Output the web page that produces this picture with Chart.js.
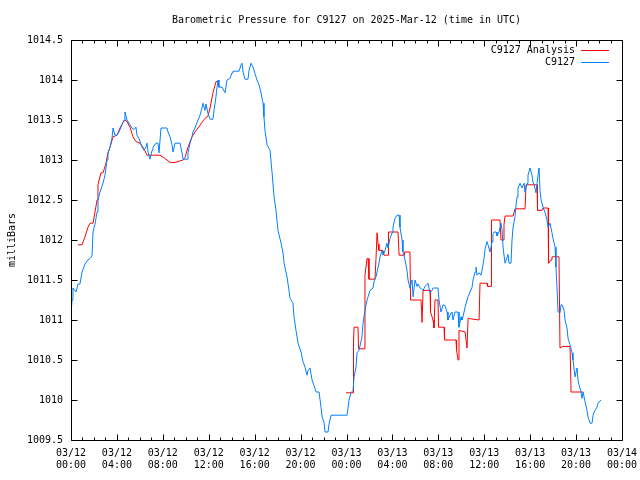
<!DOCTYPE html>
<html>
<head>
<meta charset="utf-8">
<title>Barometric Pressure for C9127</title>
<script src="https://cdn.jsdelivr.net/npm/chart.js@4.4.1/dist/chart.umd.min.js"></script>
<style>
	html, body {
		margin: 0;
		padding: 0;
		background: #ffffff;
	}
	#chartBox {
		width: 640px;
		height: 480px;
	}
</style>
</head>
<body>
<div id="chartBox">
	<canvas id="pressureChart" width="640" height="480"></canvas>
</div>
<script>
// hours after 03/12 00:00 UTC, pressure in mb
var stationName = "C9127";
var chartTitle = "Barometric Pressure for C9127 on 2025-Mar-12 (time in UTC)";
var yAxisTitle = "milliBars";

var tickDates = [ "03/12", "03/12", "03/12", "03/12", "03/12", "03/12",
		"03/13", "03/13", "03/13", "03/13", "03/13", "03/13", "03/14" ];
var tickTimes = [ "00:00", "04:00", "08:00", "12:00", "16:00", "20:00",
		"00:00", "04:00", "08:00", "12:00", "16:00", "20:00", "00:00" ];

var obsHours = [ 0, 0.09, 0.17, 0.44, 0.61, 0.78, 0.96, 1.22, 1.48, 1.66,
		1.83, 1.92, 2.09, 2.27, 2.35, 2.53, 2.79, 2.96, 3.14, 3.22,
		3.40, 3.57, 3.66, 3.83, 4.01, 4.18, 4.44, 4.62, 4.70, 4.88,
		5.14, 5.31, 5.49, 5.66, 5.75, 5.92, 6.19, 6.36, 6.53, 6.62,
		6.71, 6.88, 7.06, 7.14, 7.41, 7.58, 7.67, 7.84, 8.36, 8.45,
		8.63, 8.80, 8.89, 9.06, 9.50, 9.67, 9.76, 10.11, 10.19, 10.37,
		10.54, 10.63, 10.80, 10.98, 11.24, 11.41, 11.50, 11.67, 11.76, 11.94,
		12.11, 12.37, 12.46, 12.63, 12.72, 12.81, 12.89, 13.16, 13.42, 13.59,
		13.85, 14.03, 14.11, 14.64, 14.81, 14.90, 14.99, 15.16, 15.42, 15.51,
		15.68, 15.86, 16.03, 16.20, 16.38, 16.55, 16.73, 16.81, 16.90, 17.08,
		17.34, 17.51, 17.69, 17.86, 18.03, 18.30, 18.47, 18.56, 18.82, 18.99,
		19.08, 19.34, 19.43, 19.60, 19.78, 20.04, 20.21, 20.39, 20.56, 20.65,
		20.82, 21.00, 21.17, 21.35, 21.61, 21.78, 21.87, 22.04, 22.13, 22.39,
		22.48, 22.65, 24.05, 24.22, 24.39, 24.57, 24.66, 24.83, 24.92, 25.09,
		25.35, 25.44, 25.61, 25.79, 25.88, 26.05, 26.31, 26.40, 26.57, 26.66,
		26.83, 26.92, 27.10, 27.18, 27.36, 27.53, 27.62, 27.79, 27.97, 28.05,
		28.23, 28.40, 28.58, 28.66, 28.84, 28.92, 29.10, 29.27, 29.36, 29.53,
		29.71, 29.80, 29.97, 30.14, 30.23, 30.41, 30.67, 30.84, 31.10, 31.28,
		31.45, 31.54, 31.97, 32.06, 32.23, 32.41, 32.58, 32.76, 32.84, 33.02,
		33.19, 33.28, 33.45, 33.72, 33.80, 33.98, 34.06, 34.15, 34.33, 34.50,
		34.59, 34.76, 34.94, 35.02, 35.20, 35.28, 35.37, 35.55, 35.72, 35.89,
		35.98, 36.07, 36.24, 36.33, 36.50, 36.68, 36.76, 36.85, 37.03, 37.11,
		37.29, 37.46, 37.55, 37.64, 37.81, 37.98, 38.07, 38.16, 38.33, 38.42,
		38.51, 38.68, 38.77, 38.86, 38.94, 39.12, 39.29, 39.47, 39.55, 39.73,
		39.81, 39.99, 40.16, 40.25, 40.34, 40.51, 40.60, 40.77, 40.86, 40.95,
		41.12, 41.30, 41.47, 41.56, 41.73, 41.90, 41.99, 42.17, 42.25, 42.34,
		42.43, 42.60, 42.69, 42.78, 42.95, 43.04, 43.21, 43.30, 43.47, 43.65,
		43.73, 43.91, 44.08, 44.17, 44.26, 44.43, 44.52, 44.61, 44.78, 44.95,
		45.04, 45.22, 45.39, 45.48, 45.65, 45.82, 45.91, 46.17 ];
var obsMb = [ 1011.08, 1011.25, 1011.4, 1011.35, 1011.45, 1011.45, 1011.6, 1011.7, 1011.75, 1011.77,
		1011.8, 1012.1, 1012.2, 1012.35, 1012.5, 1012.6, 1012.71, 1012.81, 1013.0, 1013.08,
		1013.16, 1013.27, 1013.4, 1013.31, 1013.31, 1013.35, 1013.44, 1013.5, 1013.6, 1013.5,
		1013.44, 1013.4, 1013.38, 1013.41, 1013.31, 1013.27, 1013.16, 1013.12, 1013.16, 1013.21,
		1013.1, 1013.01, 1013.12, 1013.16, 1013.21, 1013.21, 1013.09, 1013.4, 1013.4, 1013.35,
		1013.29, 1013.19, 1013.1, 1013.21, 1013.21, 1013.09, 1013.01, 1013.01, 1013.09, 1013.21,
		1013.29, 1013.35, 1013.4, 1013.47, 1013.56, 1013.65, 1013.71, 1013.62, 1013.7, 1013.58,
		1013.51, 1013.51, 1013.62, 1013.79, 1013.91, 1014.0, 1013.91, 1013.91, 1013.84, 1014.0,
		1014.02, 1014.09, 1014.11, 1014.11, 1014.19, 1014.21, 1014.1, 1014.01, 1014.01, 1014.12,
		1014.21, 1014.16, 1014.08, 1014.0, 1013.94, 1013.84, 1013.71, 1013.54, 1013.37, 1013.19,
		1013.12, 1012.85, 1012.54, 1012.37, 1012.12, 1011.96, 1011.84, 1011.71, 1011.54, 1011.37,
		1011.27, 1011.21, 1011.04, 1010.87, 1010.71, 1010.6, 1010.48, 1010.41, 1010.31, 1010.37,
		1010.4, 1010.25, 1010.18, 1010.1, 1010.1, 1009.91, 1009.79, 1009.72, 1009.6, 1009.6,
		1009.7, 1009.81, 1009.81, 1010.0, 1010.09, 1010.12, 1010.29, 1010.41, 1010.59, 1010.62,
		1010.79, 1010.96, 1011.12, 1011.25, 1011.29, 1011.37, 1011.4, 1011.48, 1011.54, 1011.6,
		1011.71, 1011.79, 1011.87, 1011.81, 1011.87, 1011.96, 1011.9, 1012.02, 1012.09, 1012.16,
		1012.27, 1012.31, 1012.31, 1012.16, 1012.0, 1011.85, 1011.75, 1011.62, 1011.5, 1011.4,
		1011.5, 1011.29, 1011.5, 1011.42, 1011.45, 1011.4, 1011.37, 1011.42, 1011.46, 1011.34,
		1011.37, 1011.4, 1011.4, 1011.25, 1011.1, 1011.19, 1011.18, 1011.1, 1011.0, 1011.06,
		1011.1, 1011.0, 1011.1, 1011.1, 1010.91, 1011.04, 1011.0, 1011.04, 1011.16, 1011.25,
		1011.29, 1011.35, 1011.41, 1011.5, 1011.6, 1011.66, 1011.56, 1011.59, 1011.56, 1011.69,
		1011.77, 1011.89, 1011.98, 1011.94, 1011.85, 1011.98, 1012.08, 1012.1, 1012.1, 1012.05,
		1012.1, 1012.21, 1012.13, 1011.91, 1011.71, 1011.78, 1011.82, 1011.71, 1011.71, 1012.0,
		1012.16, 1012.29, 1012.44, 1012.54, 1012.65, 1012.71, 1012.65, 1012.71, 1012.6, 1012.71,
		1012.81, 1012.9, 1012.81, 1012.72, 1012.69, 1012.59, 1012.71, 1012.9, 1012.62, 1012.5,
		1012.41, 1012.34, 1012.25, 1012.16, 1012.21, 1012.09, 1012.02, 1011.91, 1011.66, 1011.4,
		1011.1, 1011.09, 1011.19, 1011.19, 1011.12, 1011.0, 1010.9, 1010.77, 1010.69, 1010.59,
		1010.5, 1010.29, 1010.4, 1010.25, 1010.19, 1010.1, 1010.02, 1010.1, 1009.98, 1009.87,
		1009.79, 1009.71, 1009.71, 1009.81, 1009.87, 1009.91, 1009.96, 1010.0 ];

// analysis series has a gap (null) between the two runs
var anaHours = [ 0.61, 0.96, 1.22, 1.48, 1.66, 1.92, 2.09, 2.27, 2.35, 2.61,
		2.79, 3.05, 3.22, 3.40, 3.66, 4.01, 4.27, 4.53, 4.70, 4.88,
		5.14, 5.40, 5.66, 6.01, 6.36, 6.62, 7.75, 8.10, 8.63, 9.06,
		9.76, 9.93, 10.19, 10.54, 10.80, 11.06, 11.41, 11.67, 11.94, 12.11,
		12.37, 12.63, 12.81, 13.00,
		23.96, 24.57, 24.61, 24.66, 25.00, 25.05, 25.53, 25.61, 25.79, 25.88,
		25.96, 26.48, 26.57, 26.66, 26.75, 26.83, 27.18, 27.27, 27.62, 27.66,
		28.49, 28.58, 29.01, 29.06, 29.53, 29.58, 30.49, 30.54, 30.58, 30.67,
		31.28, 31.32, 31.54, 31.62, 31.71, 31.97, 32.02, 32.50, 32.54, 33.54,
		33.59, 33.72, 33.80, 34.33, 34.50, 34.59, 35.55, 35.63, 36.24, 36.29,
		36.59, 36.63, 37.37, 37.46, 37.64, 37.72, 37.81, 38.51, 38.68, 39.55,
		39.64, 40.60, 40.64, 41.03, 41.12, 41.56, 41.60, 41.82, 41.90, 42.51,
		42.60, 42.86, 43.47, 43.52, 43.56, 44.61 ];
var anaMb = [ 1011.94, 1011.94, 1012.04, 1012.16, 1012.21, 1012.21, 1012.35, 1012.5, 1012.69, 1012.84,
		1012.84, 1012.96, 1013.09, 1013.16, 1013.29, 1013.31, 1013.4, 1013.47, 1013.5, 1013.48,
		1013.41, 1013.29, 1013.23, 1013.21, 1013.14, 1013.06, 1013.06, 1013.03, 1012.97, 1012.97,
		1013.0, 1013.03, 1013.16, 1013.29, 1013.35, 1013.4, 1013.47, 1013.52, 1013.55, 1013.65,
		1013.84, 1013.98, 1013.98, null,
		1010.09, 1010.09, 1010.71, 1010.91, 1010.91, 1010.64, 1010.64, 1011.56, 1011.77, 1011.77,
		1011.51, 1011.51, 1011.77, 1012.09, 1011.95, 1011.87, 1011.87, 1011.81, 1011.81, 1012.1,
		1012.1, 1011.81, 1011.81, 1011.85, 1011.85, 1011.25, 1011.25, 1011.12, 1010.97, 1011.37,
		1011.37, 1011.1, 1011.0, 1010.9, 1011.25, 1011.25, 1010.91, 1010.91, 1010.75, 1010.75,
		1010.62, 1010.5, 1010.87, 1010.85, 1010.65, 1011.02, 1011.0, 1011.46, 1011.46, 1011.42,
		1011.42, 1012.25, 1012.25, 1012.0, 1012.0, 1012.19, 1012.3, 1012.3, 1012.39, 1012.39,
		1012.69, 1012.69, 1012.37, 1012.37, 1012.4, 1012.4, 1011.71, 1011.75, 1011.79, 1011.79,
		1010.65, 1010.67, 1010.67, 1010.4, 1010.1, 1010.1 ];

(function() {
	'use strict';
	var fontFamily = "'DejaVu Sans Mono', 'Liberation Mono', monospace";
	var anaColor = 'rgb(255, 0, 0)';
	var obsColor = 'rgb(0, 128, 255)';

	function toPoints(hours, values) {
		var pts = [];
		for (var i = 0; i < hours.length; i++) {
			pts.push({
				x : hours[i],
				y : values[i]
			});
		}
		return pts;
	}

	// gnuplot style frame: border box with inward ticks on all sides,
	// title, y label and the legend inside the top right corner
	var framePlugin = {
		id : 'gnuplotFrame',
		afterDraw : function(chart) {
			var ctx = chart.ctx;
			var area = chart.chartArea;
			var xs = chart.scales.x;
			var ys = chart.scales.y;
			var l = Math.round(area.left) + 0.5;
			var r = Math.round(area.right) + 0.5;
			var t = Math.round(area.top) + 0.5;
			var b = Math.round(area.bottom) + 0.5;
			ctx.save();
			ctx.strokeStyle = '#000000';
			ctx.lineWidth = 1;
			ctx.beginPath();
			ctx.rect(l, t, r - l, b - t);
			for (var h = xs.min; h <= xs.max; h++) {
				var px = Math.round(xs.getPixelForValue(h)) + 0.5;
				var len = (h % 4 === 0) ? 6 : 3;
				ctx.moveTo(px, b);
				ctx.lineTo(px, b - len);
				ctx.moveTo(px, t);
				ctx.lineTo(px, t + len);
			}
			ys.ticks.forEach(function(tk) {
				var py = Math.round(ys.getPixelForValue(tk.value)) + 0.5;
				ctx.moveTo(l, py);
				ctx.lineTo(l + 6, py);
				ctx.moveTo(r, py);
				ctx.lineTo(r - 6, py);
			});
			ctx.stroke();

			ctx.fillStyle = '#000000';
			ctx.font = '10px ' + fontFamily;
			ctx.textAlign = 'center';
			ctx.textBaseline = 'middle';
			ctx.fillText(chartTitle, (area.left + area.right) / 2, 20);

			ctx.save();
			ctx.translate(12, (area.top + area.bottom) / 2);
			ctx.rotate(-Math.PI / 2);
			ctx.fillText(yAxisTitle, 0, 0);
			ctx.restore();

			// legend
			var items = [ {
				label : stationName + ' Analysis',
				color : anaColor
			}, {
				label : stationName,
				color : obsColor
			} ];
			ctx.textAlign = 'right';
			items.forEach(function(item, i) {
				var y = area.top + 10 + i * 12;
				ctx.fillStyle = '#000000';
				ctx.fillText(item.label, area.right - 47, y);
				ctx.strokeStyle = item.color;
				ctx.beginPath();
				ctx.moveTo(area.right - 41, Math.round(y) + 0.5);
				ctx.lineTo(area.right - 13, Math.round(y) + 0.5);
				ctx.stroke();
			});
			ctx.restore();
		}
	};

	var ctx = document.getElementById('pressureChart');
	new Chart(ctx, {
		type : 'line',
		data : {
			datasets : [ {
				label : stationName + ' Analysis',
				data : toPoints(anaHours, anaMb),
				borderColor : anaColor,
				backgroundColor : anaColor,
				borderWidth : 1,
				pointRadius : 0,
				tension : 0,
				spanGaps : false,
				order : 2
			}, {
				label : stationName,
				data : toPoints(obsHours, obsMb),
				borderColor : obsColor,
				backgroundColor : obsColor,
				borderWidth : 1,
				pointRadius : 0,
				tension : 0,
				order : 1
			} ]
		},
		options : {
			responsive : false,
			animation : false,
			layout : {
				padding : {
					top : 40,
					right : 18,
					left : 0,
					bottom : 0
				}
			},
			plugins : {
				legend : {
					display : false
				},
				title : {
					display : false
				},
				tooltip : {
					enabled : false
				}
			},
			scales : {
				x : {
					type : 'linear',
					min : 0,
					max : 48,
					grid : {
						display : false,
						drawTicks : false
					},
					border : {
						display : false
					},
					afterFit : function(scale) {
						scale.height = 40;
						scale.paddingLeft = 0;
						scale.paddingRight = 0;
					},
					ticks : {
						stepSize : 1,
						autoSkip : false,
						maxRotation : 0,
						padding : 7,
						color : '#000000',
						font : {
							family : fontFamily,
							size : 10
						},
						callback : function(value) {
							if (value % 4 !== 0) {
								return '';
							}
							var idx = value / 4;
							return [ tickDates[idx], tickTimes[idx] ];
						}
					}
				},
				y : {
					min : 1009.5,
					max : 1014.5,
					grid : {
						display : false,
						drawTicks : false
					},
					border : {
						display : false
					},
					afterFit : function(scale) {
						scale.width = 71;
					},
					ticks : {
						stepSize : 0.5,
						padding : 8,
						color : '#000000',
						font : {
							family : fontFamily,
							size : 10
						},
						callback : function(value) {
							return String(value);
						}
					}
				}
			}
		},
		plugins : [ framePlugin ]
	});
})();
</script>
</body>
</html>
